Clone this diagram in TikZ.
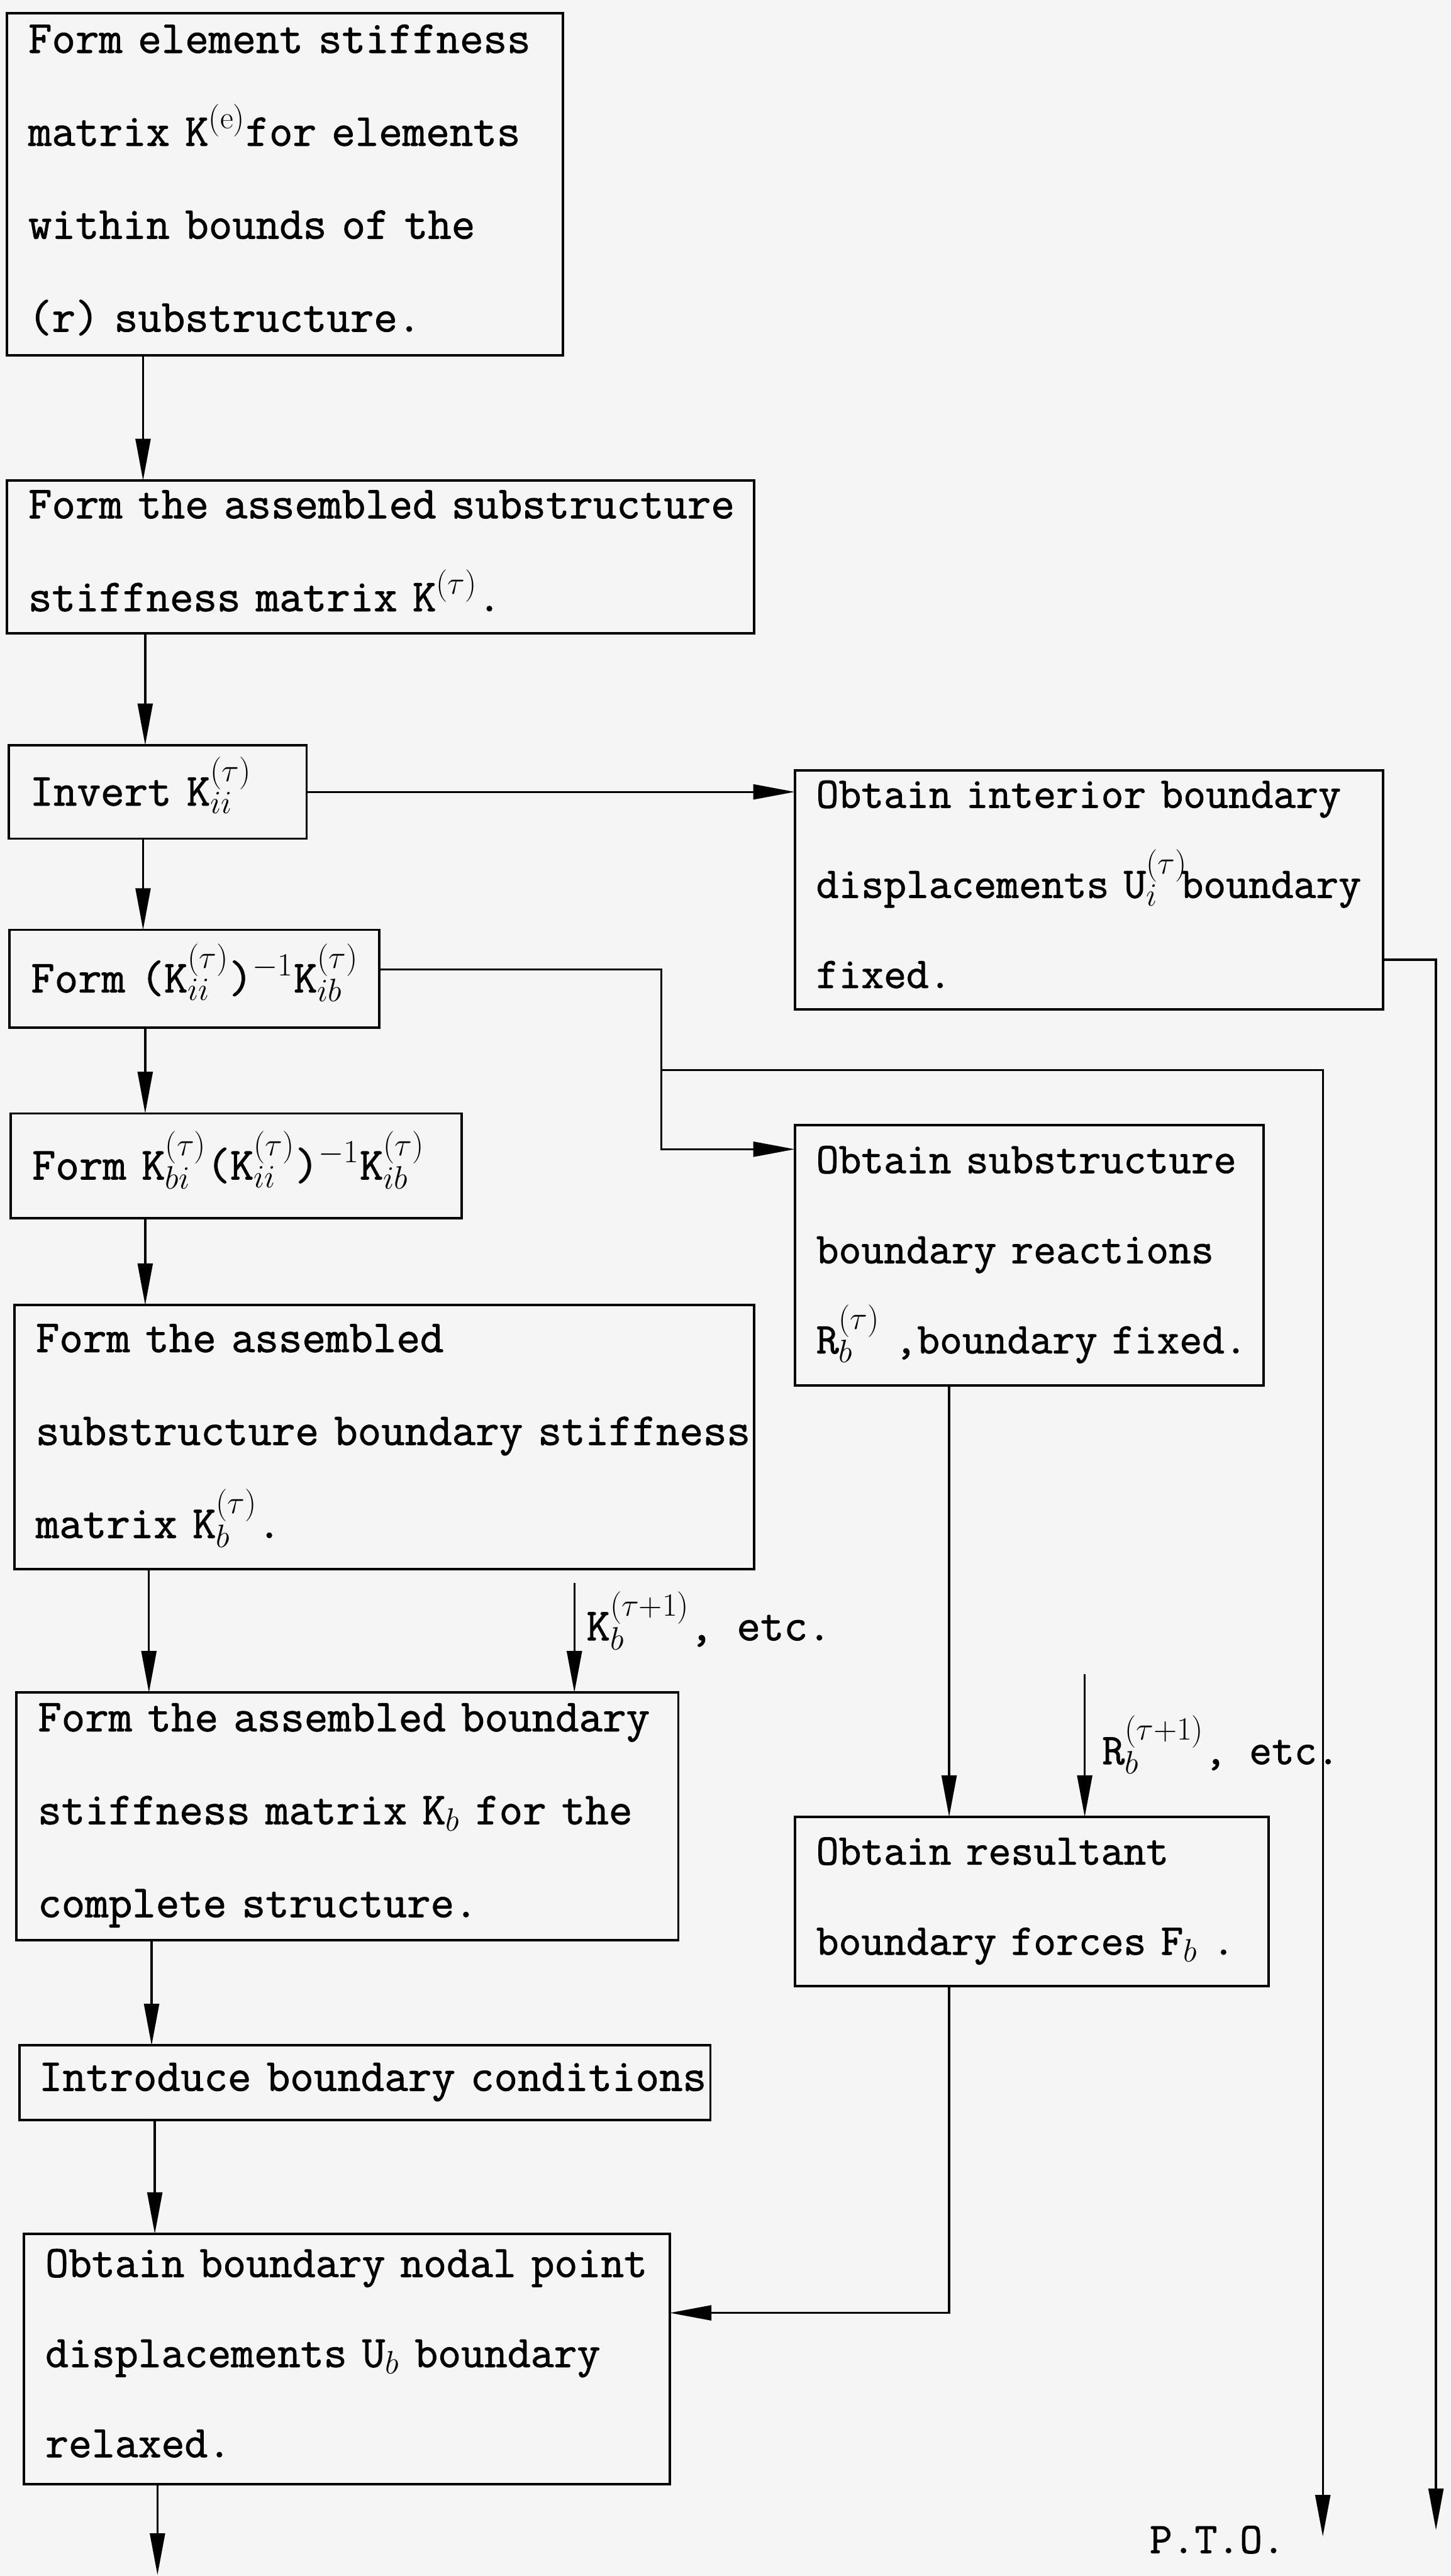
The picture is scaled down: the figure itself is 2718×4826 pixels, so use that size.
\documentclass[tikz,border=0pt]{standalone}
\usepackage{fontspec}
\newfontfamily\twfont{Latin Modern Mono}[FakeBold=1.3]
\usetikzlibrary{arrows.meta}
\newcommand\tstr{\rule[-11.25pt]{0pt}{31pt}}
\newcommand\tline[1]{\mbox{\tstr #1}}
\begin{document}
\begin{tikzpicture}[x=0.01cm,y=-0.01cm,
  txt/.style={font=\twfont\fontsize{24.4}{49.5}\selectfont},
  txtr/.style={font=\twfont\fontsize{23.3}{48}\selectfont},
  txtb/.style={font=\twfont\fontsize{24}{48}\selectfont},
  box/.style={draw, line width=1.3pt, anchor=north west, inner xsep=0.4cm,
    inner ysep=0pt, outer sep=0pt, align=left, txt},
  lbl/.style={inner sep=0pt, anchor=base west, txt},
  conn/.style={line width=1.1pt},
  arr/.style={conn, -{Triangle[length=0.78cm,width=0.28cm]}}]
\fill[black!4] (0,0) rectangle (2718,4826);
\useasboundingbox (0,0) rectangle (2718,4826);

% left column
\node[box, minimum width=10.41cm, minimum height=6.40cm, text width=9.61cm] (b1) at (13,25)
 {\tline{Form element stiffness}\\\tline{matrix K$^{(\mathrm{e})}$for elements}\\\tline{within bounds of the}\\\tline{(r) substructure.}};
\node[box, minimum width=13.99cm, minimum height=2.86cm, text width=13.19cm] (b2) at (13,900)
 {\tline{Form the assembled substructure}\\\tline{stiffness matrix K$^{(\tau)}$.}};
\node[box, minimum width=5.58cm, minimum height=1.75cm, text width=4.78cm] (b3) at (16,1396)
 {\tline{Invert K$^{(\tau)}_{ii}$}};
\node[box, minimum width=6.92cm, minimum height=1.83cm, text width=6.12cm] (b4) at (18,1742)
 {\tline{Form (K$^{(\tau)}_{ii}$)$^{-1}$K$^{(\tau)}_{ib}$}};
\node[box, minimum width=8.44cm, minimum height=1.96cm, text width=7.64cm] (b5) at (20,2086)
 {\tline{Form K$^{(\tau)}_{bi}$(K$^{(\tau)}_{ii}$)$^{-1}$K$^{(\tau)}_{ib}$}};
\node[box, minimum width=13.85cm, minimum height=4.94cm, text width=13.05cm] (b6) at (27,2445)
 {\tline{Form the assembled}\\\tline{substructure boundary stiffness}\\\tline{matrix K$^{(\tau)}_{b}$.}};
\node[box, minimum width=12.39cm, minimum height=4.63cm, text width=11.59cm] (b7) at (31,3171)
 {\tline{Form the assembled boundary}\\\tline{stiffness matrix K$_{b}$ for the}\\\tline{complete structure.}};
\node[box, inner xsep=0.36cm, minimum width=12.93cm, minimum height=1.40cm, text width=12.21cm] (b8) at (37,3832)
 {\tline{Introduce boundary conditions}};
\node[box, txtb, minimum width=12.09cm, minimum height=4.69cm, text width=11.29cm] (b9) at (45,4185)
 {\tline{Obtain boundary nodal point}\\\tline{displacements U$_{b}$ boundary}\\\tline{relaxed.}};

% right column
\node[box, txtr, minimum width=11.01cm, minimum height=4.48cm, text width=10.21cm] (bint) at (1489,1443)
 {\tline{Obtain interior boundary}\\\tline{displacements U$^{(\tau)}_{i}$\hspace{-0.15em}boundary}\\\tline{fixed.}};
\node[box, txtr, minimum width=8.78cm, minimum height=4.87cm, text width=7.98cm] (bsub) at (1489,2108)
 {\tline{Obtain substructure}\\\tline{boundary reactions}\\\tline{R$^{(\tau)}_{b}$ ,boundary fixed.}};
\node[box, txtr, minimum width=8.87cm, minimum height=3.17cm, text width=8.07cm] (bres) at (1489,3404)
 {\tline{Obtain resultant}\\\tline{boundary forces F$_{b}$ .}};

% labels
\node[lbl] (klab) at (1098,3073) {K$^{(\tau+1)}_{b}$, etc.};
\node[lbl, txtr] (rlab) at (2064,3305) {R$^{(\tau+1)}_{b}$, etc.};
\node[lbl, txtr] (pto) at (2153,4783) {P.T.O.};

% free ends
\coordinate (j1) at (1239,2005);
\coordinate (pto1) at (2478,4752);
\coordinate (pto2) at (2690,4740);
\coordinate (kin) at (1076,2966);
\coordinate (rin) at (2032,3136);
\coordinate (out) at (295,4824);

% connectors
\draw[arr] (b1.south -| 268,0) -- (b2.north -| 268,0);
\draw[arr] (b2.south -| 272,0) -- (b3.north -| 272,0);
\draw[arr] (b3.east) -- (b3.east -| bint.west);
\draw[arr] (b3.south -| 268,0) -- (b4.north -| 268,0);
\draw[arr] (b4.south -| 272,0) -- (b5.north -| 272,0);
\draw[arr] (b5.south -| 272,0) -- (b6.north -| 272,0);
\draw[arr] (b6.south -| 279,0) -- (b7.north -| 279,0);
\draw[arr] (b7.south -| 284,0) -- (b8.north -| 284,0);
\draw[arr] (b8.south -| 290,0) -- (b9.north -| 290,0);
\draw[arr] (b9.south -| out) -- (out);
\draw[arr] (b4.east |- 0,1816) -| (1239,2153) -- (bsub.west |- 0,2153);
\draw[arr] (j1) -| (pto1);
\draw[arr] (bint.east |- 0,1798) -| (pto2);
\draw[arr] (bsub.south -| 1778,0) -- (bres.north -| 1778,0);
\draw[arr] (kin) -- (b7.north -| kin);
\draw[arr] (rin) -- (bres.north -| rin);
\draw[arr] (bres.south -| 1778,0) |- (b9.east |- 0,4333);
\end{tikzpicture}
\end{document}
